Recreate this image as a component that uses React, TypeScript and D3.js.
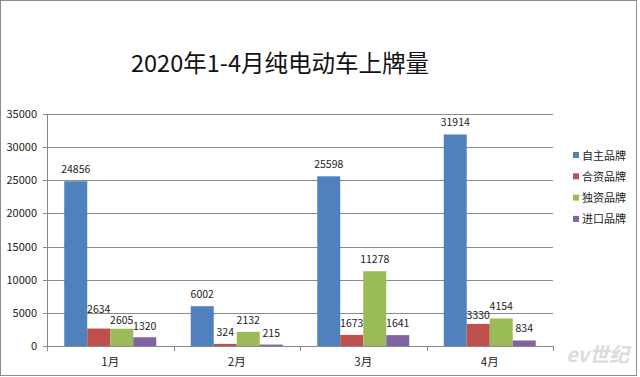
import React from "react";
import * as d3 from "d3";

const categories = ["1月", "2月", "3月", "4月"];
const seriesNames = ["自主品牌", "合资品牌", "独资品牌", "进口品牌"];
const ziZhu = [24856, 6002, 25598, 31914];
const heZi = [2634, 324, 1673, 3330];
const duZi = [2605, 2132, 11278, 4154];
const jinKou = [1320, 215, 1641, 834];
const yTicks = [0, 5000, 10000, 15000, 20000, 25000, 30000, 35000];
const colors = ["#4F81BD", "#C0504D", "#9BBB59", "#8064A2"];
const title = "2020年1-4月纯电动车上牌量";

const W = 640, H = 377;
const plot = { left: 47, right: 553, top: 114, bottom: 346 };
const FONT = "'Microsoft YaHei', 'Noto Sans CJK SC', sans-serif";
// label gap above bar (Excel auto-nudged a few overlapping labels)
const labelGap = (si: number, ci: number) => {
  if (ci === 0 && si === 1) return 16;
  if (ci === 0 && si === 2) return 5;
  if (ci === 0 && si === 3) return 7;
  if (ci === 3 && si === 1) return 5;
  return 8;
};

export default function App() {
  const series = [ziZhu, heZi, duZi, jinKou];
  const x = d3.scaleBand<string>().domain(categories).range([plot.left, plot.right]);
  const y = d3.scaleLinear().domain([0, 35000]).range([plot.bottom, plot.top]);
  const bw = x.bandwidth() / 5.5;
  const off = (x.bandwidth() - bw * 4) / 2;
  const boundaries = categories.map((c) => x(c) as number).concat([plot.right]);
  return (
    <svg width={W} height={H} style={{ position: "absolute", left: 0, top: 0, background: "#fff" }} fontFamily={FONT}>
      <rect x={0.5} y={0.5} width={636} height={375} fill="#fff" stroke="#8c8c8c" />
      <text x={280} y={72} textAnchor="middle" fontSize={23.5} fill="#111">{title}</text>
      {yTicks.map((t) => (
        <g key={t}>
          {t > 0 && <line x1={plot.left} x2={plot.right} y1={Math.round(y(t)) + 0.5} y2={Math.round(y(t)) + 0.5} stroke="#8a8a8a" />}
          <line x1={plot.left - 4} x2={plot.left} y1={Math.round(y(t)) + 0.5} y2={Math.round(y(t)) + 0.5} stroke="#8a8a8a" />
          <text x={37} y={y(t) + 4} textAnchor="end" fontSize={11} fill="#222">{t}</text>
        </g>
      ))}
      <line x1={plot.left + 0.5} x2={plot.left + 0.5} y1={plot.top} y2={plot.bottom} stroke="#8a8a8a" />
      {series.map((vals, si) =>
        vals.map((v, ci) => {
          const bx = (x(categories[ci]) as number) + off + si * bw;
          return (
            <g key={`${si}-${ci}`}>
              <rect x={bx} y={y(v)} width={bw} height={plot.bottom - y(v)} fill={colors[si]} />
              <text x={bx + bw / 2} y={y(v) - labelGap(si, ci)} textAnchor="middle" fontSize={10.5} fill="#222">{v}</text>
            </g>
          );
        })
      )}
      <line x1={plot.left} x2={plot.right} y1={plot.bottom + 0.5} y2={plot.bottom + 0.5} stroke="#8a8a8a" />
      {boundaries.map((b, i) => (
        <line key={i} x1={Math.round(b) + 0.5} x2={Math.round(b) + 0.5} y1={plot.bottom} y2={plot.bottom + 5} stroke="#8a8a8a" />
      ))}
      {categories.map((c) => (
        <text key={c} x={(x(c) as number) + x.bandwidth() / 2} y={366} textAnchor="middle" fontSize={11.5} fill="#222">{c}</text>
      ))}
      {seriesNames.map((n, i) => (
        <g key={n}>
          <rect x={573} y={152 + i * 21.3} width={6} height={6} fill={colors[i]} />
          <text x={582} y={159.5 + i * 21.3} fontSize={11} fill="#222">{n}</text>
        </g>
      ))}
      <text x={566} y={362} fontSize={20} fontStyle="italic" fontWeight="bold" fill="#dcdcdc">ev世纪</text>
    </svg>
  );
}
